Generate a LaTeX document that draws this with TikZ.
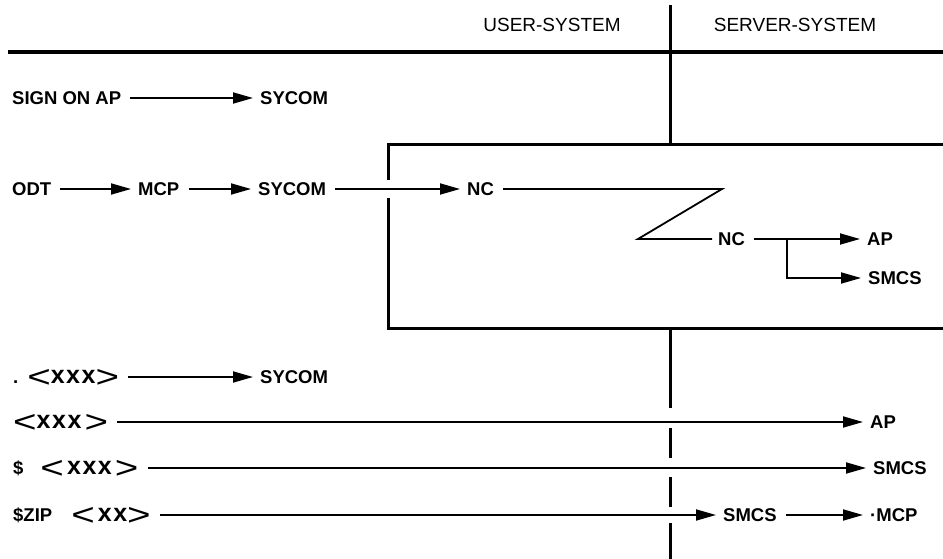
\documentclass[tikz,border=0pt]{standalone}
\usepackage{fontspec}
\setmainfont{Liberation Sans}
\usetikzlibrary{arrows.meta}
% wide, thin angle brackets and lower-case placeholders used in the command rows
\newcommand\angL{\raisebox{-3.5pt}{\scalebox{1.3}[1]{\mdseries\fontsize{31}{31}\selectfont<}}}
\newcommand\angR{\raisebox{-3.5pt}{\scalebox{1.3}[1]{\mdseries\fontsize{31}{31}\selectfont>}}}
\newcommand\xs[1]{{\bfseries\fontsize{25}{25}\selectfont #1}}
\newcommand\xk{\kern1.5pt}
\tikzset{
  lbl/.style={font=\bfseries\fontsize{18.5}{20}\selectfont, inner sep=0pt,
              text height=13pt, text depth=0pt, anchor=west},
  hdr/.style={font=\fontsize{19}{21}\selectfont, inner sep=0pt},
  conn/.style={line width=1.8pt, shorten <=9pt, shorten >=7pt},
  arr/.style={conn, -{Triangle[length=20pt,width=11pt]}},
  frame/.style={line width=3pt},
  rule/.style={line width=3.5pt}
}
\begin{document}
\begin{tikzpicture}[x=1pt, y=-1pt]
\fill[white] (0,0) rectangle (943,559);
\useasboundingbox (0,0) rectangle (943,559);

% headings and the separating rules
\node[hdr] (user) at (552,25) {USER-SYSTEM};
\node[hdr] (server) at (795,25) {SERVER-SYSTEM};
\draw[rule] (8,52) -- (943,52);
\draw[frame] (670,5) -- (670,145);
\draw[frame] (670,328) -- (670,408);
\draw[frame] (670,428) -- (670,458);
\draw[frame] (670,477) -- (670,507);
\draw[frame] (670,523) -- (670,559);

% network frame, open to the right
\draw[frame] (943,145) -- (388,145) -- (388,180);
\draw[frame] (388,198) -- (388,328) -- (943,328);

% SIGN ON AP
\node[lbl] (signon) at (12,98) {SIGN ON AP};
\node[lbl] (sycomA) at (260,98) {SYCOM};
\draw[arr] (signon.east) -- (sycomA.west);

% ODT path through the network
\node[lbl] (odt) at (12,189) {ODT};
\node[lbl] (mcpA) at (138,189) {MCP};
\node[lbl] (sycomB) at (258,189) {SYCOM};
\node[lbl] (ncA) at (467,189) {NC};
\node[lbl] (ncB) at (718,239) {NC};
\node[lbl] (apA) at (867,239) {AP};
\node[lbl] (smcsA) at (868,278) {SMCS};
\coordinate (zA) at (722,189);
\coordinate (zB) at (638,239);
\coordinate (br) at (787,239);
\draw[arr] (odt.east) -- (mcpA.west);
\draw[arr] (mcpA.east) -- (sycomB.west);
\draw[arr] (sycomB.east) -- (ncA.west);
\draw[conn, shorten >=6pt] (ncA.east) -- (zA) -- (zB) -- (ncB.west);
\draw[arr] (ncB.east) -- (apA.west);
\draw[arr, shorten <=0pt] (br) |- (smcsA.west);

% command rows
\node[lbl] (cmdA) at (13,377) {.\hspace{9pt}\angL\xs{x\xk x\xk x}\angR};
\node[lbl] (sycomC) at (260,377) {SYCOM};
\draw[arr] (cmdA.east) -- (sycomC.west);

\node[lbl] (cmdB) at (13,422) {\angL\xs{x\xk x\xk x}\,\angR};
\node[lbl] (apB) at (870,422) {AP};
\draw[arr] (cmdB.east) -- (apB.west);

\node[lbl] (cmdC) at (13,468) {\$\hspace{17pt}\angL\,\xs{x\xk x\xk x}\,\angR};
\node[lbl] (smcsB) at (873,468) {SMCS};
\draw[arr] (cmdC.east) -- (smcsB.west);

\node[lbl] (cmdD) at (13,515) {\$ZIP\hspace{19pt}\angL\,\xs{x\xk x}\angR};
\node[lbl] (smcsC) at (723,515) {SMCS};
\node[lbl] (mcpB) at (870,515) {·MCP};
\draw[arr] (cmdD.east) -- (smcsC.west);
\draw[arr] (smcsC.east) -- (mcpB.west);
\end{tikzpicture}
\end{document}
